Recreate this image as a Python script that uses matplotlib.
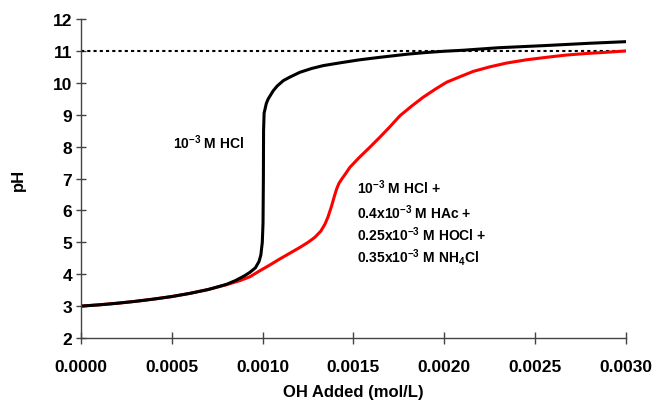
import numpy as np
import matplotlib
matplotlib.use("Agg")
import matplotlib.pyplot as plt

plt.rcParams["font.family"] = ["Liberation Sans", "DejaVu Sans"]
plt.rcParams["font.weight"] = "bold"
plt.rcParams["mathtext.fontset"] = "custom"
plt.rcParams["mathtext.rm"] = "Liberation Sans:bold"
plt.rcParams["mathtext.bf"] = "Liberation Sans:bold"
plt.rcParams["mathtext.default"] = "bf"

# black: 1e-3 M HCl
hcl_x = [0, 0.0001, 0.0002, 0.0003, 0.0004, 0.0005, 0.0006, 0.0007, 0.00075,
         0.0008, 0.00085, 0.0009, 0.00093, 0.00096, 0.00098, 0.00099,
         0.000998, 0.001002, 0.001004, 0.001005, 0.001008, 0.00102, 0.00103,
         0.001058, 0.00108, 0.001114, 0.00115, 0.001205, 0.00127, 0.001334,
         0.00143, 0.001532, 0.001646, 0.0018, 0.0019, 0.002, 0.0021, 0.0023,
         0.002563, 0.0028, 0.003]
hcl_ph = [3.0, 3.04, 3.09, 3.15, 3.22, 3.3, 3.4, 3.52, 3.6,
          3.68, 3.8, 3.95, 4.06, 4.2, 4.4, 4.6,
          5.0, 5.6, 7.0, 8.5, 9.05, 9.35, 9.49,
          9.75, 9.9, 10.07, 10.18, 10.33, 10.45, 10.54,
          10.63, 10.72, 10.8, 10.9, 10.95, 10.99, 11.02, 11.1,
          11.17, 11.24, 11.29]

# red: HCl + HAc + HOCl + NH4Cl
mix_x = [0, 0.0001, 0.0002, 0.0003, 0.0004, 0.0005, 0.0006, 0.0007, 0.0008,
         0.000875, 0.00093, 0.000985, 0.00104, 0.001095, 0.00115, 0.001205,
         0.00125, 0.001288, 0.00132, 0.001343, 0.00136, 0.00138, 0.001395,
         0.001407, 0.00142, 0.001435, 0.00146, 0.00148, 0.00153, 0.00159,
         0.001646, 0.0017, 0.001756, 0.00182, 0.001884, 0.00195, 0.002013,
         0.00209, 0.00216, 0.00225, 0.002343, 0.00245, 0.002563, 0.00267,
         0.002783, 0.0029, 0.003]
mix_ph = [3.0, 3.04, 3.09, 3.15, 3.22, 3.3, 3.4, 3.52, 3.67,
          3.8, 3.92, 4.11, 4.29, 4.48, 4.66, 4.84,
          5.0, 5.16, 5.35, 5.57, 5.8, 6.15, 6.45,
          6.67, 6.85, 6.98, 7.18, 7.35, 7.65, 7.98,
          8.3, 8.62, 8.97, 9.27, 9.55, 9.8, 10.02,
          10.2, 10.36, 10.5, 10.62, 10.72, 10.8, 10.87,
          10.92, 10.96, 11.0]

fig = plt.figure(figsize=(6.6, 4.06), dpi=100)
ax = fig.add_axes([0.1227, 0.165, 0.8258, 0.7857])

ax.plot([0, 0.003], [11, 11], color="black", lw=1.5, dashes=(1.5, 1.5))
ax.plot(mix_x, mix_ph, color="#ff0000", lw=2.2, solid_joinstyle="round")
ax.plot(hcl_x, hcl_ph, color="black", lw=2.2, solid_joinstyle="round")

ax.set_xlim(0, 0.003)
ax.set_ylim(2, 12)
xt = np.arange(0, 0.00301, 0.0005)
ax.set_xticks(xt)
ax.set_xticklabels([f"{v:.4f}" for v in xt])
ax.set_yticks(range(2, 13))

for s in ["top", "right"]:
    ax.spines[s].set_visible(False)
for s in ["left", "bottom"]:
    ax.spines[s].set_color("#444444")
    ax.spines[s].set_linewidth(1.0)

ax.tick_params(axis="y", direction="inout", length=7, width=1, color="#444444",
               labelsize=12.5, pad=3)
ax.tick_params(axis="x", direction="inout", length=8.5, width=1, color="#444444",
               labelsize=12.5, pad=11)

ax.set_xlabel("OH Added (mol/L)", fontsize=12, fontweight="bold")
ax.xaxis.set_label_coords(0.5, -0.169)
ax.xaxis.label.set_va("center")
ax.set_ylabel("pH", fontsize=12, fontweight="bold")
ax.yaxis.set_label_coords(-0.115, 0.5)
ax.yaxis.label.set_va("center")

ax.text(0.000506, 8.14, r"10$^{-3}$ M HCl", fontsize=10, va="center", ha="left")
mix_lines = [r"10$^{-3}$ M HCl +",
             r"0.4x10$^{-3}$ M HAc +",
             r"0.25x10$^{-3}$ M HOCl +",
             r"0.35x10$^{-3}$ M NH$_4$Cl"]
mix_y = [6.73, 5.95, 5.26, 4.54]
for t, yy in zip(mix_lines, mix_y):
    ax.text(0.001519, yy, t, fontsize=10, va="center", ha="left")

fig.savefig("out.png", dpi=100)
plt.close(fig)
